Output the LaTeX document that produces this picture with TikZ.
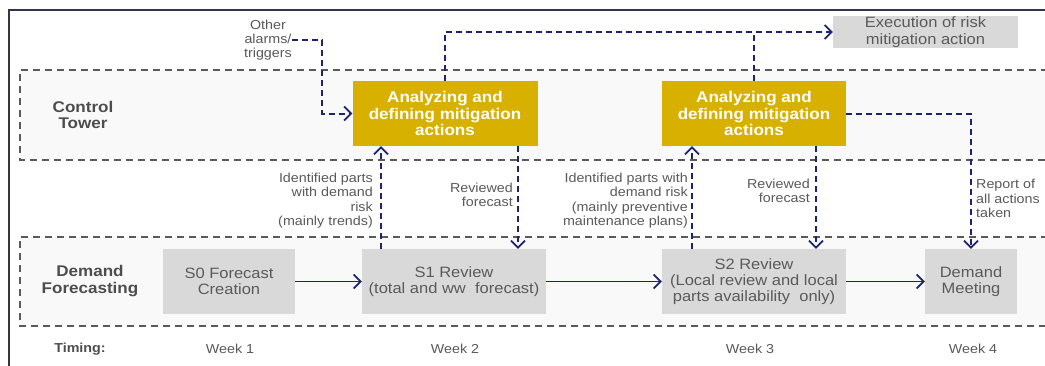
\documentclass[tikz,border=0pt]{standalone}
\usepackage{fontspec}
\setmainfont{Liberation Sans}[FakeStretch=1.1]
\usetikzlibrary{arrows.meta,positioning}

\definecolor{txtgray}{HTML}{5A5A5A}
\definecolor{headgray}{HTML}{4D4D4D}
\definecolor{boxgray}{HTML}{D9D9D9}
\definecolor{lanefill}{HTML}{F9F9F9}
\definecolor{laneline}{HTML}{5A5A5A}
\definecolor{gold}{HTML}{D8B000}
\definecolor{navy}{HTML}{1C2370}
\definecolor{framecol}{HTML}{33334A}

\tikzset{
  lane/.style={draw=laneline, fill=lanefill, line width=1.5pt, dash pattern=on 7pt off 5pt},
  stepbox/.style={fill=boxgray, text=txtgray, inner sep=0pt, align=center,
    font=\fontsize{15}{16.3}\selectfont},
  actbox/.style={fill=gold, text=white, inner sep=0pt, align=center,
    font=\bfseries\fontsize{15.5}{16.3}\selectfont, minimum width=185pt, minimum height=65pt},
  lanelabel/.style={text=headgray, align=center, inner sep=0pt,
    font=\bfseries\fontsize{15.5}{16.5}\selectfont},
  note/.style={text=txtgray, inner sep=0pt, font=\fontsize{13}{14.3}\selectfont},
  weeklabel/.style={text=txtgray, inner sep=0pt, font=\fontsize{13}{15}\selectfont},
  tip/.style={-{Straight Barb[length=7pt,width=14pt,line width=1.7pt]}},
  flow/.style={draw=navy, line width=1.7pt, tip},
  dflow/.style={draw=navy, line width=2pt, dash pattern=on 6pt off 4pt, tip},
  dline/.style={draw=navy, line width=2pt, dash pattern=on 6pt off 4pt},
}

\begin{document}
\begin{tikzpicture}[x=1pt, y=-1pt]
\useasboundingbox (0,0) rectangle (1045,365);
\clip (0,0) rectangle (1045,365);
\fill[white] (0,0) rectangle (1045,365);

% outer frame (top and left edges)
\draw[framecol, line width=2.2pt] (9,368) -- (9,10) -- (1050,10);

% swimlanes
\draw[lane] (1060,70) -- (20,70) -- (20,160) -- (1060,160);
\draw[lane] (1060,237) -- (20,237) -- (20,326) -- (1060,326);

\node[lanelabel] (ctlabel) at (83,115) {Control\\Tower};
\node[lanelabel] (dflabel) at (90,281) {Demand\\Forecasting};

% control tower boxes
\node[actbox] (box1) at (445,113.5) {Analyzing and\\defining mitigation\\actions};
\node[actbox, minimum width=184pt] (box2) at (754,113.5) {Analyzing and\\defining mitigation\\actions};
\node[stepbox, minimum width=185pt, minimum height=32pt] (exec) at (925.5,32) {Execution of risk\\mitigation action};

% demand forecasting steps
\node[stepbox, minimum width=132pt, minimum height=65pt] (s0) at (229,281.5) {S0 Forecast\\Creation};
\node[stepbox, minimum width=184pt, minimum height=65pt] (s1) at (454,281.5) {S1 Review\\(total and ww\ \ forecast)};
\node[stepbox, minimum width=184pt, minimum height=65pt] (s2) at (754,281.5) {S2 Review\\(Local review and local\\parts availability\ \ only)};
\node[stepbox, minimum width=92pt, minimum height=65pt] (dm) at (971,281.5) {Demand\\Meeting};

% trigger source
\node[note, align=center, anchor=east] (alarms) at (292,40) {Other\\alarms/\\triggers};
\coordinate (turn) at (322,40);

% flow along the forecasting lane
\draw[flow] (s0) -- (s1);
\draw[flow] (s1) -- (s2);
\draw[flow] (s2) -- (dm);

% exchanges between the lanes
\coordinate (up1) at (381,0);
\coordinate (dn1) at (518,0);
\coordinate (up2) at (692,0);
\coordinate (dn2) at (816,0);

\draw[dflow] (alarms.east) -- (turn) |- (box1.west);
\draw[dflow] (s1.north -| up1) -- (box1.south -| up1);
\draw[dflow] (box1.south -| dn1) -- (s1.north -| dn1);
\draw[dflow] (s2.north -| up2) -- (box2.south -| up2);
\draw[dflow] (box2.south -| dn2) -- (s2.north -| dn2);
\draw[dflow] (box1.north) |- (exec.west);
\draw[dline] (box2.north) -- (box2.north |- exec.west);
\draw[dflow] (box2.east) -| (dm.north);

% connector notes
\node[note, align=right, anchor=east] (n1) at (373,200.5) {Identified parts\\with demand\\risk\\(mainly trends)};
\node[note, align=right, anchor=east] (n2) at (513,194.5) {Reviewed\\forecast};
\node[note, align=right, anchor=east] (n3) at (688,200.5) {Identified parts with\\demand risk\\(mainly preventive\\maintenance plans)};
\node[note, align=right, anchor=east] (n4) at (810,190.5) {Reviewed\\forecast};
\node[note, align=left, anchor=west] (n5) at (976,198.5) {Report of\\all actions\\taken};

% timing row
\node[weeklabel, font=\bfseries\fontsize{13}{15}\selectfont, text=headgray] (timing) at (80,349) {Timing:};
\node[weeklabel] (w1) at (230,349) {Week 1};
\node[weeklabel] (w2) at (455,349) {Week 2};
\node[weeklabel] (w3) at (750,349) {Week 3};
\node[weeklabel] (w4) at (973,349) {Week 4};
\end{tikzpicture}
\end{document}
